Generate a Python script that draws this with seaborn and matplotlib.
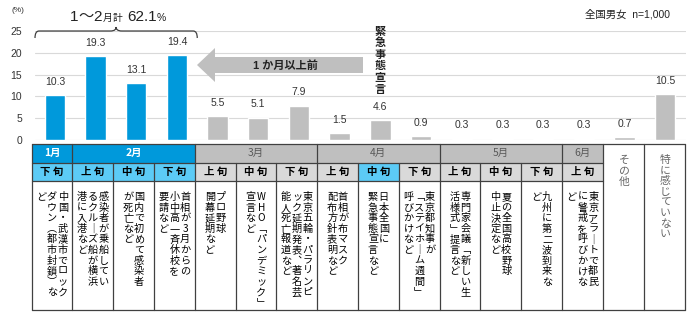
import numpy as np
import pandas as pd
import matplotlib
matplotlib.use("Agg")
import matplotlib.pyplot as plt
from matplotlib.patches import Rectangle, Polygon
from matplotlib.path import Path
from matplotlib.patches import PathPatch
import seaborn as sns

# data
months = ["1月", "2月", "2月", "2月", "3月", "3月", "3月", "4月", "4月", "4月",
          "5月", "5月", "5月", "6月", "", ""]
subs = ["下旬", "上旬", "中旬", "下旬", "上旬", "中旬", "下旬", "上旬", "中旬", "下旬",
        "上旬", "中旬", "下旬", "上旬", "その他", "特に感じていない"]
values = [10.3, 19.3, 13.1, 19.4, 5.5, 5.1, 7.9, 1.5, 4.6, 0.9,
          0.3, 0.3, 0.3, 0.3, 0.7, 10.5]
events = [
    ["中国・武漢市でロック", "ダウン（都市封鎖）な", "ど"],
    ["感染者が乗船してい", "るクルーズ船が横浜", "港に入港など"],
    ["国内で初めて感染者", "が死亡など"],
    ["首相が3月からの", "小中高一斉休校を", "要請など"],
    ["プロ野球", "開幕延期など"],
    ["WHO「パンデミック」", "宣言など"],
    ["東京五輪・パラリンピ", "ック延期発表、著名芸", "能人死亡報道など"],
    ["首相が布マスク", "配布方針表明など"],
    ["日本全国に", "緊急事態宣言など"],
    ["東京都知事が", "「ステイホーム週間」", "呼びかけなど"],
    ["専門家会議「新しい生", "活様式」提言など"],
    ["夏の全国高校野球", "中止決定など"],
    ["九州に第二波到来な", "ど"],
    ["東京アラートで都民", "に警戒を呼びかけな", "ど"],
    [],
    [],
]
total_label = "62.1"
sample_note = "全国男女  n=1,000"

BLUE = "#0099DB"
LIGHT_BLUE = "#5CCBF6"
GRAY = "#BFBFBF"
LIGHT_GRAY = "#D9D9D9"
LINE = "#404040"
TXT = "#333333"

sns.set_style("white")
plt.rcParams["font.family"] = ["Liberation Sans", "Noto Sans CJK JP", "DejaVu Sans"]
JP = ["Noto Sans CJK JP", "DejaVu Sans"]

labels = [m + s if m else s for m, s in zip(months, subs)]
highlight = [m in ("1月", "2月") for m in months]
bar_colors = [BLUE if h else GRAY for h in highlight]
df = pd.DataFrame({"period": labels, "value": values})

fig = plt.figure(figsize=(7, 3.14), dpi=100)
W, H = 700, 314
ax_left, ax_w = 34.5, 651
ax = fig.add_axes([ax_left / W, (H - 140) / H, ax_w / W, 109 / H])

sns.barplot(data=df, x="period", y="value", hue="period", palette=bar_colors,
            width=0.5, legend=False, ax=ax, saturation=1)
ax.set_xlim(-0.5, len(values) - 0.5)
ax.set_ylim(0, 25)
ax.set_yticks(range(0, 26, 5))
ax.set_xticks([])
ax.set_xlabel("")
ax.set_ylabel("")
ax.tick_params(axis="y", length=0, pad=9, labelsize=7.5, labelcolor=TXT)
ax.yaxis.grid(True, color="#D9D9D9", lw=0.8)
ax.set_axisbelow(True)
for sp in ax.spines.values():
    sp.set_visible(False)
for i, v in enumerate(values):
    ax.annotate(f"{v:.1f}", (i, v), xytext=(0, 6), textcoords="offset points",
                ha="center", va="bottom", fontsize=7.5, color=TXT)

# overlay in pixel coordinates for the table and annotations
ov = fig.add_axes([0, 0, 1, 1], facecolor="none")
ov.set_xlim(0, W)
ov.set_ylim(H, 0)
ov.axis("off")

def col_center(i):
    return ax_left + (i + 0.5) * ax_w / len(values)

VERT = {"ー": "｜", "「": "﹁", "」": "﹂", "（": "︵", "）": "︶", "、": "︑"}

def vtext(x, y0, s, pitch=10.6, **kw):
    for k, ch in enumerate(s):
        ov.text(x, y0 + k * pitch, VERT.get(ch, ch), ha="center", va="center",
                family=JP, **kw)

# table
n = len(values)
tx0, tx1 = 31.5, 684.5
cw = (tx1 - tx0) / n
r0, r1, r2, r3 = 143.5, 163, 180.5, 310
groups = []
for i, m in enumerate(months):
    if m and (not groups or groups[-1][0] != m):
        groups.append([m, i, i])
    elif m:
        groups[-1][2] = i
for m, a, b in groups:
    fc = BLUE if highlight[a] else GRAY
    ov.add_patch(Rectangle((tx0 + a * cw, r0), (b - a + 1) * cw, r1 - r0,
                           fc=fc, ec="none"))
    ov.text(tx0 + (a + b + 1) / 2 * cw, (r0 + r1) / 2, m, ha="center", va="center",
            fontsize=7.5, color="white" if highlight[a] else "#595959",
            family=JP, fontweight="bold" if highlight[a] else "normal")
for i in range(n):
    x = tx0 + i * cw
    if months[i]:
        light = highlight[i] or (months[i] == "4月" and subs[i] == "中旬")
        ov.add_patch(Rectangle((x, r1), cw, r2 - r1,
                               fc=LIGHT_BLUE if light else LIGHT_GRAY, ec="none"))
        ov.text(x + cw / 2, (r1 + r2) / 2 + 0.5, subs[i][0] + " " + subs[i][1],
                ha="center", va="center", fontsize=7.5, color="black",
                family=JP, fontweight="bold")
        lines = events[i]
        pitch_x = 10.8
        nl = len(lines)
        for j, line in enumerate(lines):
            lx = x + cw / 2 + ((nl - 1) / 2 - j) * pitch_x
            vtext(lx, 197, line, fontsize=7.3, color="black")
    else:
        vtext(x + cw / 2 + 1, 160, subs[i], pitch=11 if len(subs[i]) < 4 else 10.6,
              fontsize=7.8, color="#666666")

lw = 0.9
ov.plot([tx0, tx1], [r0, r0], color=LINE, lw=lw)
ov.plot([tx0, tx1], [r3, r3], color=LINE, lw=lw)
last_month = max(i for i, m in enumerate(months) if m)
ov.plot([tx0, tx0 + (last_month + 1) * cw], [r1, r1], color=LINE, lw=lw)
ov.plot([tx0, tx0 + (last_month + 1) * cw], [r2, r2], color=LINE, lw=lw)
group_edges = {a for _, a, _ in groups} | {last_month + 1, n - 1, n}
for k in range(n + 1):
    y_start = r0 if (k in group_edges or k == 0) else r1
    ov.plot([tx0 + k * cw] * 2, [y_start, r3], color=LINE, lw=lw)

# brace over Jan-Feb
bx0, bx1 = ax_left + 0.5, ax_left + 4 * ax_w / n
bm = (bx0 + bx1) / 2
verts = [(bx0, 38), (bx0, 31), (bx0 + 4, 31), (bm - 6, 31),
         (bm - 1, 31), (bm, 29), (bm, 27),
         (bm, 29), (bm + 1, 31), (bm + 6, 31),
         (bx1 - 4, 31), (bx1, 31), (bx1, 38)]
codes = [Path.MOVETO, Path.CURVE3, Path.CURVE3, Path.LINETO,
         Path.CURVE4, Path.CURVE4, Path.CURVE4,
         Path.CURVE4, Path.CURVE4, Path.CURVE4,
         Path.LINETO, Path.CURVE3, Path.CURVE3]
ov.add_patch(PathPatch(Path(verts, codes), fc="none", ec="#404040", lw=0.9))

# title pieces chained left to right, mixed sizes
renderer = fig.canvas.get_renderer()
pieces = [("1", 11, 0), ("〜", 11, 0), ("2", 11, 0), ("月", 7, 0.5), ("計", 7, 0.5),
          (total_label, 11, 4), ("%", 7.5, 0.5)]
cx = 70
for s, fs, gap in pieces:
    cx += gap
    t = ov.text(cx, 21, s, fontsize=fs, color="#222222", va="baseline", ha="left",
                family=JP if s in ("〜", "月", "計") else None)
    bb = t.get_window_extent(renderer)
    cx += bb.width * 100 / fig.dpi
ov.text(12, 11, "(%)", fontsize=6, color=TXT, ha="left", va="center")
ov.text(670, 14, sample_note, fontsize=7.5, color="#222222", ha="right", va="center")

# arrow "1か月以上前"
arrow = [(197, 65), (215, 48), (215, 57), (363, 57), (363, 73), (215, 73), (215, 82)]
ov.add_patch(Polygon(arrow, closed=True, fc=GRAY, ec="none"))
ov.text(285, 65.5, "1 か月以上前", fontsize=8, color="#222222", ha="center",
        va="center", fontweight="bold")

# emergency declaration label above 4月中旬
vtext(col_center(8), 31, "緊急事態宣言", pitch=11.6, fontsize=8, color="#222222",
      fontweight="bold")

fig.savefig("out.png", dpi=100)
